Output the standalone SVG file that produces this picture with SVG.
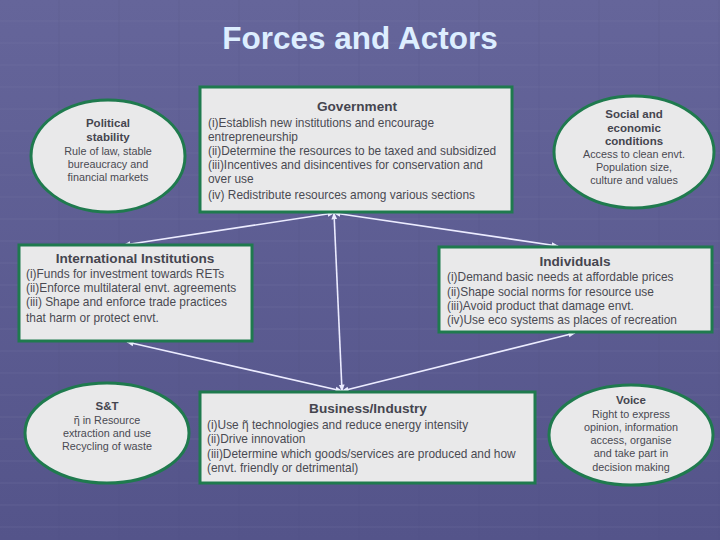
<svg xmlns="http://www.w3.org/2000/svg" width="720" height="540" viewBox="0 0 720 540">
<defs>
<linearGradient id="bg" x1="0" y1="0" x2="0" y2="1">
<stop offset="0" stop-color="#65659a"/>
<stop offset="1" stop-color="#54548a"/>
</linearGradient>
<pattern id="grid" width="60" height="22" patternUnits="userSpaceOnUse">
<rect width="60" height="22" fill="none"/>
<line x1="0" y1="21" x2="60" y2="21" stroke="#7474a6" stroke-width="1" opacity="0.3"/>
<line x1="59" y1="0" x2="59" y2="22" stroke="#48487a" stroke-width="1" opacity="0.2"/>
</pattern>
<marker id="ah" viewBox="0 0 10 10" refX="9" refY="5" markerWidth="4.5" markerHeight="4.5" orient="auto-start-reverse">
<path d="M0,1 L10,5 L0,9 z" fill="#ececff"/>
</marker>
<style>
.box{fill:#e9e9ea;stroke:#1f7a4e;stroke-width:3}
.ell{fill:#e9e9ea;stroke:#1f7a4e;stroke-width:3}
text{font-family:"Liberation Sans",Arial,sans-serif;fill:#4a4a52}
.h{font-weight:bold;font-size:13.6px;fill:#45454f}
.hs{font-weight:bold;font-size:11.5px;fill:#45454f}
.t{font-size:11.9px}
.s{font-size:10.8px}
.c{text-anchor:middle}
.con line{stroke:#ececff;stroke-width:1.6;fill:none}
</style>
</defs>
<rect width="720" height="540" fill="url(#bg)"/>
<rect width="720" height="540" fill="url(#grid)"/>
<text x="360" y="49" class="c" style="font-size:31.5px;font-weight:bold;fill:#ddeeff">Forces and Actors</text>

<g id="connectors" class="con">
<line x1="334" y1="213" x2="124" y2="245" marker-start="url(#ah)" marker-end="url(#ah)"/>
<line x1="334" y1="213" x2="558" y2="246" marker-start="url(#ah)" marker-end="url(#ah)"/>
<line x1="334" y1="213" x2="342" y2="391" marker-start="url(#ah)" marker-end="url(#ah)"/>
<line x1="127" y1="342" x2="342" y2="391" marker-start="url(#ah)" marker-end="url(#ah)"/>
<line x1="575" y1="333" x2="342" y2="391" marker-start="url(#ah)" marker-end="url(#ah)"/>
</g>

<g id="political">
<ellipse class="ell" cx="108" cy="156" rx="77" ry="56"/>
<text class="hs c" x="108" y="127">Political</text>
<text class="hs c" x="108" y="141">stability</text>
<text class="s c" x="108" y="155">Rule of law, stable</text>
<text class="s c" x="108" y="168">bureaucracy and</text>
<text class="s c" x="108" y="181">financial markets</text>
</g>

<g id="government">
<rect class="box" x="200" y="87" width="312" height="125"/>
<text class="h c" x="357" y="111">Government</text>
<text class="t" x="208" y="127">(i)Establish new institutions and encourage</text>
<text class="t" x="208" y="141">entrepreneurship</text>
<text class="t" x="208" y="155">(ii)Determine the resources to be taxed and subsidized</text>
<text class="t" x="208" y="169">(iii)Incentives and disincentives for conservation and</text>
<text class="t" x="208" y="183">over use</text>
<text class="t" x="208" y="199">(iv) Redistribute resources among various sections</text>
</g>

<g id="social">
<ellipse class="ell" cx="634" cy="152" rx="80" ry="56"/>
<text class="hs c" x="634" y="118">Social and</text>
<text class="hs c" x="634" y="132">economic</text>
<text class="hs c" x="634" y="145">conditions</text>
<text class="s c" x="634" y="158">Access to clean envt.</text>
<text class="s c" x="634" y="171">Population size,</text>
<text class="s c" x="634" y="184">culture and values</text>
</g>

<g id="international">
<rect class="box" x="19" y="245" width="233" height="96"/>
<text class="h c" x="135" y="263">International Institutions</text>
<text class="t" x="26" y="278">(i)Funds for investment towards RETs</text>
<text class="t" x="26" y="292">(ii)Enforce multilateral envt. agreements</text>
<text class="t" x="26" y="306">(iii) Shape and enforce trade practices</text>
<text class="t" x="26" y="322">that harm or protect envt.</text>
</g>

<g id="individuals">
<rect class="box" x="439" y="247" width="273" height="85"/>
<text class="h c" x="575" y="266">Individuals</text>
<text class="t" x="447" y="281">(i)Demand basic needs at affordable prices</text>
<text class="t" x="447" y="296">(ii)Shape social norms for resource use</text>
<text class="t" x="447" y="310">(iii)Avoid product that damage envt.</text>
<text class="t" x="447" y="324">(iv)Use eco systems as places of recreation</text>
</g>

<g id="st">
<ellipse class="ell" cx="107" cy="433" rx="82" ry="50"/>
<text class="hs c" x="107" y="410">S&amp;T</text>
<text class="s c" x="107" y="424">ῆ in Resource</text>
<text class="s c" x="107" y="437">extraction and use</text>
<text class="s c" x="107" y="450">Recycling of waste</text>
</g>

<g id="business">
<rect class="box" x="200" y="392" width="335" height="91"/>
<text class="h c" x="368" y="413">Business/Industry</text>
<text class="t" x="207" y="429">(i)Use ῆ technologies and reduce energy intensity</text>
<text class="t" x="207" y="443">(ii)Drive innovation</text>
<text class="t" x="207" y="458">(iii)Determine which goods/services are produced and how</text>
<text class="t" x="207" y="472">(envt. friendly or detrimental)</text>
</g>

<g id="voice">
<ellipse class="ell" cx="631" cy="435" rx="82" ry="50"/>
<text class="hs c" x="631" y="404">Voice</text>
<text class="s c" x="631" y="418">Right to express</text>
<text class="s c" x="631" y="431">opinion, information</text>
<text class="s c" x="631" y="444">access, organise</text>
<text class="s c" x="631" y="457">and take part in</text>
<text class="s c" x="631" y="471">decision making</text>
</g>
</svg>
